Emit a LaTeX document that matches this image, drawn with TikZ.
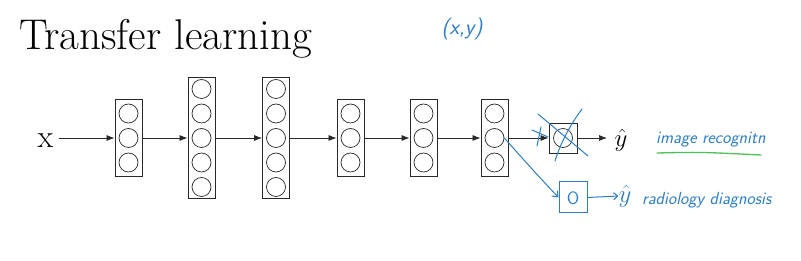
\documentclass[tikz,border=0pt]{standalone}
\usepackage{fontspec}
\usetikzlibrary{arrows.meta}
\definecolor{handblue}{RGB}{45,125,200}
\definecolor{handgreen}{RGB}{80,190,90}
\definecolor{linegray}{RGB}{40,40,40}
\tikzset{
  box3/.style={draw=linegray, line width=0.9pt, minimum width=27pt, minimum height=77pt, inner sep=0pt},
  box5/.style={draw=linegray, line width=0.9pt, minimum width=27pt, minimum height=121pt, inner sep=0pt},
  neuron/.style={draw=linegray, circle, minimum size=19pt, inner sep=0pt, line width=0.7pt},
  conn/.style={-{Latex[length=8pt,width=6pt]}, line width=0.7pt, draw=linegray},
  hand/.style={draw=handblue, line width=1pt, line cap=round, line join=round},
  handtext/.style={text=handblue, inner sep=0pt, font=\sffamily\slshape},
}
\begin{document}
\begin{tikzpicture}[x=1pt,y=-1pt]
\useasboundingbox (0,0) rectangle (801,261);
% title
\node[anchor=base west, inner sep=0pt] (title) at (19,50) {\fontsize{43}{46}\selectfont Transfer learning};
% input
\node[inner sep=0pt] (xin) at (45.5,141) {\fontsize{32}{34}\selectfont x};
% layers
\node[box3] (L1) at (128.5,138) {};
\foreach \k/\yy in {1/113.5,2/138,3/162.5} \node[neuron] (L1n\k) at (128.5,\yy) {};
\node[box5] (L2) at (201.5,138) {};
\foreach \k/\yy in {1/89,2/113.5,3/138,4/162.5,5/187} \node[neuron] (L2n\k) at (201.5,\yy) {};
\node[box5] (L3) at (276,138) {};
\foreach \k/\yy in {1/89,2/113.5,3/138,4/162.5,5/187} \node[neuron] (L3n\k) at (276,\yy) {};
\node[box3] (L4) at (350.5,138) {};
\foreach \k/\yy in {1/113.5,2/138,3/162.5} \node[neuron] (L4n\k) at (350.5,\yy) {};
\node[box3] (L5) at (423.5,138) {};
\foreach \k/\yy in {1/113.5,2/138,3/162.5} \node[neuron] (L5n\k) at (423.5,\yy) {};
\node[box3] (L6) at (494.5,138) {};
\foreach \k/\yy in {1/113.5,2/138,3/162.5} \node[neuron] (L6n\k) at (494.5,\yy) {};
% output
\node[draw=linegray, line width=0.9pt, minimum width=28pt, minimum height=30pt, inner sep=0pt] (out) at (563,138) {};
\node[neuron] (outn) at (563,138) {};
\node[inner sep=0pt] (yhat) at (621,140) {\fontsize{34}{36}\selectfont$\hat{y}$};
% connectors
\coordinate (xstart) at (59,138);
\coordinate (yend) at (607,138);
\draw[conn] (xstart) -- (L1.west);
\draw[conn] (L1.east) -- (L2.west);
\draw[conn] (L2.east) -- (L3.west);
\draw[conn] (L3.east) -- (L4.west);
\draw[conn] (L4.east) -- (L5.west);
\draw[conn] (L5.east) -- (L6.west);
\draw[conn] (L6.east) -- (out.west);
\draw[conn] (out.east) -- (yend);
% handwriting
\node[handtext] (xy) at (462,29) {\fontsize{22}{24}\selectfont (x,y)};
\draw[hand] (538,114) -- (588,156);
\draw[hand] (582,109) .. controls (568,128) and (560,145) .. (555,161);
\draw[hand] (532,130) -- (548,137);
\draw[hand] (537,146) -- (541,127);
\node[handtext, anchor=west] (imgrec) at (656,140) {\fontsize{17.5}{18}\selectfont image recognitn};
\draw[draw=handgreen, line width=1.3pt, line cap=round] (657,153) .. controls (700,152) .. (761,155);
% new head
\node[draw=handblue, line width=1pt, minimum width=28pt, minimum height=31pt, inner sep=0pt] (newout) at (573,197.5) {};
\node[text=handblue, inner sep=0pt, font=\sffamily] (newo) at (573,198) {\fontsize{18}{18}\selectfont O};
\draw[hand, -{Straight Barb[length=5pt,width=8pt]}] (L6n2.east) .. controls (522,158) and (540,178) .. (newout.west);
\node[text=handblue, inner sep=0pt] (hy2) at (625,196) {\fontsize{25}{26}\selectfont$\hat{y}$};
\draw[hand, -{Straight Barb[length=4pt,width=7pt]}] (newout.east) -- (hy2.west);
\node[handtext, anchor=west] (rad) at (642,200) {\fontsize{17.5}{18}\selectfont radiology diagnosis};
\end{tikzpicture}
\end{document}
